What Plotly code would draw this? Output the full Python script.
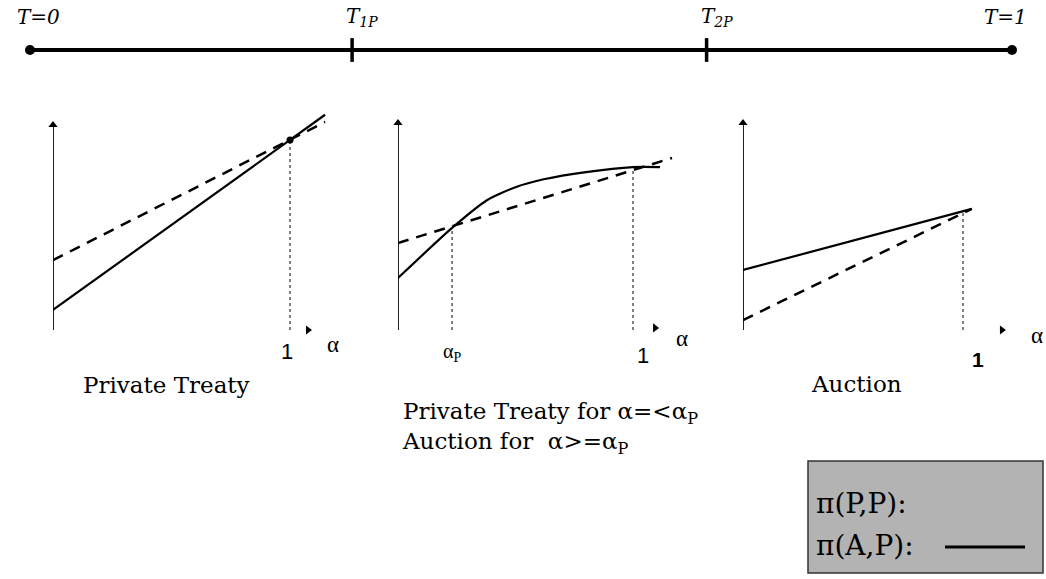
import plotly.graph_objects as go

W, H = 1046, 579
FW, FH = W, H

# ---------------- data ----------------
# timeline
timeline_pos = [0.0, 0.328, 0.689, 1.0]
timeline_labels = ["T=0", "T<sub>1P</sub>", "T<sub>2P</sub>", "T=1"]

# Panel 1: Private Treaty
p1_alpha = [0.0, 1.0, 1.148]
p1_solid = [0.098, 0.927, 1.05]
p1_dash = [0.341, 0.927, 1.015]

# Panel 2: Private Treaty for a=<aP, Auction for a>=aP
alpha_p = 0.23
p2_alpha_solid = [0.0, 0.23, 0.38, 0.5, 0.62, 0.8, 1.0, 1.115]
p2_solid = [0.251, 0.493, 0.628, 0.69, 0.728, 0.763, 0.787, 0.787]
p2_alpha_dash = [0.0, 1.166]
p2_dash = [0.420, 0.831]

# Panel 3: Auction
p3_alpha = [0.0, 1.04]
p3_solid = [0.290, 0.585]
p3_dash = [0.048, 0.585]

panel_titles = ["Private Treaty",
                "Private Treaty for α=<α<sub>P</sub><br>Auction for  α>=α<sub>P</sub>",
                "Auction"]
legend_labels = ["π(P,P):", "π(A,P):"]


def px(x):
    return x / FW


def py(y):
    return 1 - y / FH


SERIF = "Liberation Serif, Times New Roman, serif"
WSERIF = "DejaVu Serif, serif"
SANS = "Liberation Sans, Arial, sans-serif"

fig = go.Figure()

# ---------------- timeline ----------------
fig.add_trace(go.Scatter(x=[timeline_pos[0], timeline_pos[-1]], y=[0, 0], mode="lines",
                         line=dict(color="black", width=4), xaxis="x", yaxis="y",
                         hoverinfo="skip"))
fig.add_trace(go.Scatter(x=[timeline_pos[0], timeline_pos[-1]], y=[0, 0], mode="markers",
                         marker=dict(color="black", size=10, symbol="circle"),
                         xaxis="x", yaxis="y", cliponaxis=False, hoverinfo="skip"))
fig.add_trace(go.Scatter(x=timeline_pos[1:3], y=[0, 0], mode="markers",
                         marker=dict(color="black", size=17, symbol="line-ns",
                                     line=dict(color="black", width=3.5)),
                         xaxis="x", yaxis="y", cliponaxis=False, hoverinfo="skip"))

label_shift = [8, 10, 10, -7]
for pos, lab, sh in zip(timeline_pos, timeline_labels, label_shift):
    fig.add_annotation(x=pos, y=py(17), xref="x", yref="paper", text=f"<i>{lab}</i>",
                       showarrow=False, xshift=sh, xanchor="center", yanchor="middle",
                       font=dict(family=WSERIF, size=20, color="black"))

# ---------------- panels ----------------
panels = [
    dict(ax="x2", ay="y2", alphas_s=p1_alpha, solid=p1_solid, alphas_d=p1_alpha, dash=p1_dash),
    dict(ax="x3", ay="y3", alphas_s=p2_alpha_solid, solid=p2_solid, alphas_d=p2_alpha_dash, dash=p2_dash),
    dict(ax="x4", ay="y4", alphas_s=p3_alpha, solid=p3_solid, alphas_d=p3_alpha, dash=p3_dash),
]
arrow_pos = [(1.076, 0.0), (1.094, 0.01), (1.177, 0.0)]
dotted = [[(1.0, p1_solid[1])], [(alpha_p, p2_solid[1]), (1.0, p2_solid[6])], [(1.0, 0.58)]]

for i, p in enumerate(panels):
    xa, ya = p["ax"], p["ay"]
    # vertical axis with arrow head
    fig.add_trace(go.Scatter(x=[0, 0], y=[0, 1.0], mode="lines",
                             line=dict(color="#222", width=2), xaxis=xa, yaxis=ya,
                             hoverinfo="skip", cliponaxis=False))
    fig.add_trace(go.Scatter(x=[0], y=[1.0], mode="markers",
                             marker=dict(symbol="triangle-up", size=8, color="black"),
                             xaxis=xa, yaxis=ya, hoverinfo="skip", cliponaxis=False))
    # alpha arrowhead
    fig.add_trace(go.Scatter(x=[arrow_pos[i][0]], y=[arrow_pos[i][1]], mode="markers",
                             marker=dict(symbol="triangle-right", size=8, color="black"),
                             xaxis=xa, yaxis=ya, hoverinfo="skip", cliponaxis=False))
    # dotted verticals
    for (xv, yv) in dotted[i]:
        fig.add_trace(go.Scatter(x=[xv, xv], y=[0, yv], mode="lines",
                                 line=dict(color="black", width=1, dash="dot"),
                                 xaxis=xa, yaxis=ya, hoverinfo="skip", cliponaxis=False))
    # dashed curve
    fig.add_trace(go.Scatter(x=p["alphas_d"], y=p["dash"], mode="lines",
                             line=dict(color="black", width=2.5, dash="11px,8px"),
                             xaxis=xa, yaxis=ya, hoverinfo="skip", cliponaxis=False))
    # solid curve
    fig.add_trace(go.Scatter(x=p["alphas_s"], y=p["solid"], mode="lines",
                             line=dict(color="black", width=2.2,
                                       shape="spline" if i == 1 else "linear", smoothing=0.6),
                             xaxis=xa, yaxis=ya, hoverinfo="skip", cliponaxis=False))

# intersection dot in panel 1
fig.add_trace(go.Scatter(x=[p1_alpha[1]], y=[p1_solid[1]], mode="markers",
                         marker=dict(size=7, color="black"), xaxis="x2", yaxis="y2",
                         hoverinfo="skip", cliponaxis=False))

# tick-like labels
tick_specs = [
    ("x2", "y2", 1.0, "1", -3, -22, SANS, 22, False),
    ("x3", "y3", alpha_p, "α<sub>P</sub>", 0, -22, SERIF, 20, False),
    ("x3", "y3", 1.0, "1", 10, -25, SANS, 22, False),
    ("x4", "y4", 1.0, "1", 15, -29, SANS, 21, True),
]
for xa, ya, xv, txt, xs, ys, fam, sz, bold in tick_specs:
    fig.add_annotation(x=xv, y=0, xref=xa, yref=ya, text=f"<b>{txt}</b>" if bold else txt,
                       showarrow=False, xshift=xs, yshift=ys, xanchor="center", yanchor="middle",
                       font=dict(family=fam, size=sz, color="black"))

# alpha axis labels
alpha_lab = [("x2", "y2", 1.076, 25, -15), ("x3", "y3", 1.094, 27, -8), ("x4", "y4", 1.177, 35, -5)]
for xa, ya, xv, xs, ys in alpha_lab:
    fig.add_annotation(x=xv, y=0, xref=xa, yref=ya, text="α", showarrow=False,
                       xshift=xs, yshift=ys, xanchor="center", yanchor="middle",
                       font=dict(family=SERIF, size=23, color="black"))

# panel titles
fig.add_annotation(x=px(166), y=py(385), xref="paper", yref="paper", text=panel_titles[0],
                   showarrow=False, xanchor="center", yanchor="middle",
                   font=dict(family=WSERIF, size=23, color="black"))
fig.add_annotation(x=px(400), y=py(428), xref="paper", yref="paper", text=panel_titles[1],
                   showarrow=False, xanchor="left", yanchor="middle", align="left",
                   font=dict(family=WSERIF, size=23, color="black"))
fig.add_annotation(x=px(856), y=py(384), xref="paper", yref="paper", text=panel_titles[2],
                   showarrow=False, xanchor="center", yanchor="middle",
                   font=dict(family=WSERIF, size=23, color="black"))

# legend box
fig.add_shape(type="rect", xref="paper", yref="paper", x0=px(808), x1=px(1043),
              y0=py(573), y1=py(461), fillcolor="#b3b3b3",
              line=dict(color="#333", width=1.5), layer="below")
fig.add_annotation(x=px(814), y=py(503), xref="paper", yref="paper", text=legend_labels[0],
                   showarrow=False, xanchor="left", yanchor="middle",
                   font=dict(family=WSERIF, size=28, color="black"))
fig.add_annotation(x=px(814), y=py(545), xref="paper", yref="paper", text=legend_labels[1],
                   showarrow=False, xanchor="left", yanchor="middle",
                   font=dict(family=WSERIF, size=28, color="black"))
fig.add_shape(type="line", xref="paper", yref="paper", x0=px(945), x1=px(1025),
              y0=py(547), y1=py(547), line=dict(color="black", width=3))

# ---------------- axes layout ----------------
hidden = dict(visible=False, showgrid=False, zeroline=False, fixedrange=True)
fig.update_layout(
    width=FW, height=FH, margin=dict(l=0, r=0, t=0, b=0),
    paper_bgcolor="white", plot_bgcolor="rgba(0,0,0,0)", showlegend=False,
    hovermode=False,
    xaxis=dict(domain=[px(30), px(1012)], range=[0, 1], **hidden),
    yaxis=dict(domain=[py(70), py(30)], range=[-1, 1], **hidden),
    xaxis2=dict(domain=[px(53), px(53 + 1.2 * 237)], range=[0, 1.2], anchor="y2", **hidden),
    yaxis2=dict(domain=[py(330), py(330 - 1.1 * 205)], range=[0, 1.1], anchor="x2", **hidden),
    xaxis3=dict(domain=[px(398), px(398 + 1.2 * 235)], range=[0, 1.2], anchor="y3", **hidden),
    yaxis3=dict(domain=[py(330), py(330 - 1.1 * 207)], range=[0, 1.1], anchor="x3", **hidden),
    xaxis4=dict(domain=[px(743), px(743 + 1.35 * 220)], range=[0, 1.35], anchor="y4", **hidden),
    yaxis4=dict(domain=[py(330), py(330 - 1.1 * 207)], range=[0, 1.1], anchor="x4", **hidden),
)

fig.write_html("out.html", config={"displayModeBar": False},
               post_script="document.body.style.margin='0';document.body.style.overflow='hidden';")
